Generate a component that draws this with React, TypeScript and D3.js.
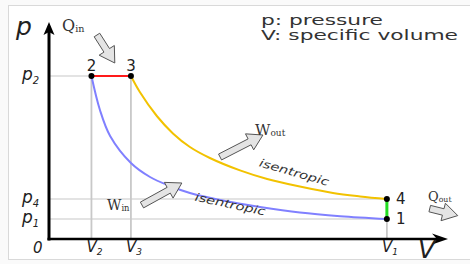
import React, { useEffect, useRef } from "react";
import * as d3 from "d3";

/* DATA (arbitrary units) */
const stateLabels = ["1", "2", "3", "4"];
const stateV = [7.96, 1.0, 1.93, 7.96];
const stateP = [1.0, 8.15, 8.15, 2.0];

// isentropic compression 1 -> 2
const compressionV = [1.0, 1.2, 1.44, 1.93, 2.38, 2.85, 3.32, 4.15, 4.97, 5.91, 6.86, 7.96];
const compressionP = [8.15, 6.45, 5.15, 3.8, 3.1, 2.65, 2.3, 1.9, 1.6, 1.32, 1.14, 1.0];

// isentropic expansion 3 -> 4
const expansionV = [1.93, 2.14, 2.54, 2.92, 3.32, 3.79, 4.5, 5.14, 5.91, 6.69, 7.33, 7.96];
const expansionP = [8.15, 7.35, 6.15, 5.28, 4.6, 4.05, 3.43, 3.0, 2.62, 2.3, 2.13, 2.0];

// tick labels
const pTickSubs = ["2", "4", "1"];
const pTickValues = [8.15, 2.0, 1.0];
const vTickSubs = ["2", "3", "1"];
const vTickValues = [1.0, 1.93, 7.96];

// heat / work arrows: tail and tip in data units
const arrowNames = ["Qin", "Wout", "Win", "Qout"];
const arrowTailV = [1.13, 4.03, 2.19, 8.97];
const arrowTailP = [10.2, 4.1, 1.7, 1.52];
const arrowTipV = [1.55, 5.04, 3.13, 9.63];
const arrowTipP = [8.8, 5.2, 2.8, 1.17];

const legendLines = ["p: pressure", "V: specific volume"];

function App() {
  const chartRef = useRef(null);

  useEffect(() => {
    const svg = d3.select(chartRef.current);
    svg.selectAll("*").remove();

    const x = d3.scaleLinear().domain([0, 9.4]).range([49, 448]);
    const y = d3.scaleLinear().domain([0, 10.85]).range([239, 22]);

    // frame
    svg
      .append("rect")
      .attr("x", 8.5)
      .attr("y", 5.5)
      .attr("width", 470)
      .attr("height", 254)
      .attr("fill", "#fff")
      .attr("stroke", "#d9d9d9");

    // guide lines
    const grid = svg.append("g").attr("stroke", "#c8c8c8");
    const hLines = [
      { p: stateP[1], v: stateV[1] },
      { p: stateP[3], v: stateV[3] },
      { p: stateP[0], v: stateV[0] },
    ];
    hLines.forEach((d) => {
      grid
        .append("line")
        .attr("x1", x(0))
        .attr("x2", x(d.v))
        .attr("y1", y(d.p))
        .attr("y2", y(d.p))
        .attr("stroke-width", 1.2);
    });
    const vLines = [
      { v: stateV[1], p: stateP[1] },
      { v: stateV[2], p: stateP[2] },
      { v: stateV[3], p: stateP[3] },
    ];
    vLines.forEach((d) => {
      grid
        .append("line")
        .attr("x1", x(d.v))
        .attr("x2", x(d.v))
        .attr("y1", y(0))
        .attr("y2", y(d.p))
        .attr("stroke-width", 1.8);
    });

    // cycle
    const line = d3
      .line<number>()
      .x((d) => x(d))
      .curve(d3.curveCatmullRom.alpha(0.5));

    svg
      .append("path")
      .attr("d", line.y((d, i) => y(compressionP[i]))(compressionV))
      .attr("fill", "none")
      .attr("stroke", "#8080ff")
      .attr("stroke-width", 2);

    svg
      .append("path")
      .attr("d", line.y((d, i) => y(expansionP[i]))(expansionV))
      .attr("fill", "none")
      .attr("stroke", "#f2c200")
      .attr("stroke-width", 2);

    svg
      .append("line")
      .attr("x1", x(stateV[1]))
      .attr("x2", x(stateV[2]))
      .attr("y1", y(stateP[1]))
      .attr("y2", y(stateP[2]))
      .attr("stroke", "#ff1a1a")
      .attr("stroke-width", 2);

    svg
      .append("line")
      .attr("x1", x(stateV[3]))
      .attr("x2", x(stateV[0]))
      .attr("y1", y(stateP[3]))
      .attr("y2", y(stateP[0]))
      .attr("stroke", "#22dd22")
      .attr("stroke-width", 3);

    // axes
    const ax = svg.append("g");
    ax.append("line")
      .attr("x1", x(0))
      .attr("x2", x(0))
      .attr("y1", y(0) + 1.5)
      .attr("y2", y(10.85) + 6)
      .attr("stroke", "#000")
      .attr("stroke-width", 3);
    ax.append("line")
      .attr("x1", x(0) - 1.5)
      .attr("x2", x(9.4) - 6)
      .attr("y1", y(0))
      .attr("y2", y(0))
      .attr("stroke", "#000")
      .attr("stroke-width", 2.5);
    const yt = [x(0), y(10.85)];
    ax.append("path")
      .attr(
        "d",
        `M${yt[0]},${yt[1]} L${yt[0] - 5.5},${yt[1] + 13} L${yt[0]},${yt[1] + 10} L${yt[0] + 5.5},${yt[1] + 13} Z`
      )
      .attr("fill", "#000");
    const xt = [x(9.4), y(0)];
    ax.append("path")
      .attr(
        "d",
        `M${xt[0]},${xt[1]} L${xt[0] - 16},${xt[1] - 5.5} L${xt[0] - 11},${xt[1]} L${xt[0] - 16},${xt[1] + 5.5} Z`
      )
      .attr("fill", "#000");

    // state points
    svg
      .append("g")
      .selectAll("circle")
      .data(stateV)
      .enter()
      .append("circle")
      .attr("cx", (d) => x(d))
      .attr("cy", (d, i) => y(stateP[i]))
      .attr("r", 3)
      .attr("fill", "#000");

    const numFont = "DejaVu Sans, sans-serif";
    const stateText = svg
      .append("g")
      .attr("font-family", numFont)
      .attr("font-size", 15)
      .attr("fill", "#222");
    stateLabels.forEach((lab, i) => {
      const top = i === 1 || i === 2;
      stateText
        .append("text")
        .attr("x", top ? x(stateV[i]) : x(stateV[i]) + 9)
        .attr("y", top ? y(stateP[i]) - 5 : y(stateP[i]) + 5)
        .attr("text-anchor", top ? "middle" : "start")
        .text(lab);
    });

    // axis titles and ticks
    const lab = svg
      .append("g")
      .attr("font-family", numFont)
      .attr("font-style", "italic")
      .attr("fill", "#222");
    lab.append("text").attr("x", 16).attr("y", 35).attr("font-size", 25).text("p");
    lab.append("text").attr("x", 418).attr("y", 258).attr("font-size", 25).text("V");
    lab.append("text").attr("x", 33).attr("y", 253).attr("font-size", 15).text("0");

    pTickValues.forEach((p, i) => {
      const t = lab
        .append("text")
        .attr("x", 22)
        .attr("y", y(p) + 4)
        .attr("font-size", 17);
      t.append("tspan").text("p");
      t.append("tspan").attr("font-size", 10).attr("dy", 4).text(pTickSubs[i]);
    });
    vTickValues.forEach((v, i) => {
      const t = lab
        .append("text")
        .attr("x", x(v) - 5)
        .attr("y", 252)
        .attr("font-size", 15);
      t.append("tspan").text("V");
      t.append("tspan").attr("font-size", 9).attr("dy", 3).text(vTickSubs[i]);
    });

    // isentropic labels
    const iso = svg
      .append("g")
      .attr("font-family", numFont)
      .attr("font-style", "italic")
      .attr("font-size", 11)
      .attr("fill", "#333");
    iso.append("text")
      .attr("transform", `translate(${x(5.75)},${y(3.15)}) rotate(16)`)
      .attr("text-anchor", "middle")
      .attr("textLength", 72)
      .attr("lengthAdjust", "spacingAndGlyphs")
      .text("isentropic");
    iso.append("text")
      .attr("transform", `translate(${x(4.25)},${y(1.6) + 1}) rotate(12)`)
      .attr("text-anchor", "middle")
      .attr("textLength", 72)
      .attr("lengthAdjust", "spacingAndGlyphs")
      .text("isentropic");

    // block arrows
    const arrows = svg.append("g");
    arrowNames.forEach((name, i) => {
      const tx = x(arrowTailV[i]);
      const ty = y(arrowTailP[i]);
      const hx = x(arrowTipV[i]);
      const hy = y(arrowTipP[i]);
      const len = Math.hypot(hx - tx, hy - ty);
      const ux = (hx - tx) / len;
      const uy = (hy - ty) / len;
      const nx = -uy;
      const ny = ux;
      const s = 3.3;
      const h = 9;
      const L = 15;
      const bx = hx - ux * L;
      const by = hy - uy * L;
      const pts = [
        [tx + nx * s, ty + ny * s],
        [bx + nx * s, by + ny * s],
        [bx + nx * h, by + ny * h],
        [hx, hy],
        [bx - nx * h, by - ny * h],
        [bx - nx * s, by - ny * s],
        [tx - nx * s, ty - ny * s],
      ];
      arrows
        .append("path")
        .attr("d", "M" + pts.map((p) => p.join(",")).join("L") + "Z")
        .attr("fill", "#e4e4e4")
        .attr("stroke", "#555")
        .attr("stroke-width", 1)
        .attr("stroke-linejoin", "round");
    });

    // Q / W labels
    const serif = "DejaVu Serif, serif";
    const qw = svg.append("g").attr("font-family", serif).attr("fill", "#333");
    const qwLabels = [
      { t: "Q", s: "in", px: 62, py: 31, fs: 16 },
      { t: "W", s: "out", px: 255, py: 135, fs: 15 },
      { t: "W", s: "in", px: 107, py: 210, fs: 14 },
      { t: "Q", s: "out", px: 428, py: 201, fs: 13 },
    ];
    qwLabels.forEach((d) => {
      const t = qw.append("text").attr("x", d.px).attr("y", d.py).attr("font-size", d.fs);
      t.append("tspan").text(d.t);
      t.append("tspan").attr("font-size", d.fs * 0.6).attr("dy", 1).text(d.s);
    });

    // legend
    const lg = svg
      .append("g")
      .attr("font-family", numFont)
      .attr("font-size", 14)
      .attr("fill", "#333");
    legendLines.forEach((l, i) => {
      lg.append("text")
        .attr("x", 261)
        .attr("y", 25 + i * 14.5)
        .attr("textLength", i === 0 ? 122 : 197)
        .attr("lengthAdjust", "spacingAndGlyphs")
        .text(l);
    });
  }, []);

  return (
    <svg
      ref={chartRef}
      width={470}
      height={264}
      style={{ position: "absolute", left: 0, top: 0, background: "#fafafa" }}
    />
  );
}

export default App;
